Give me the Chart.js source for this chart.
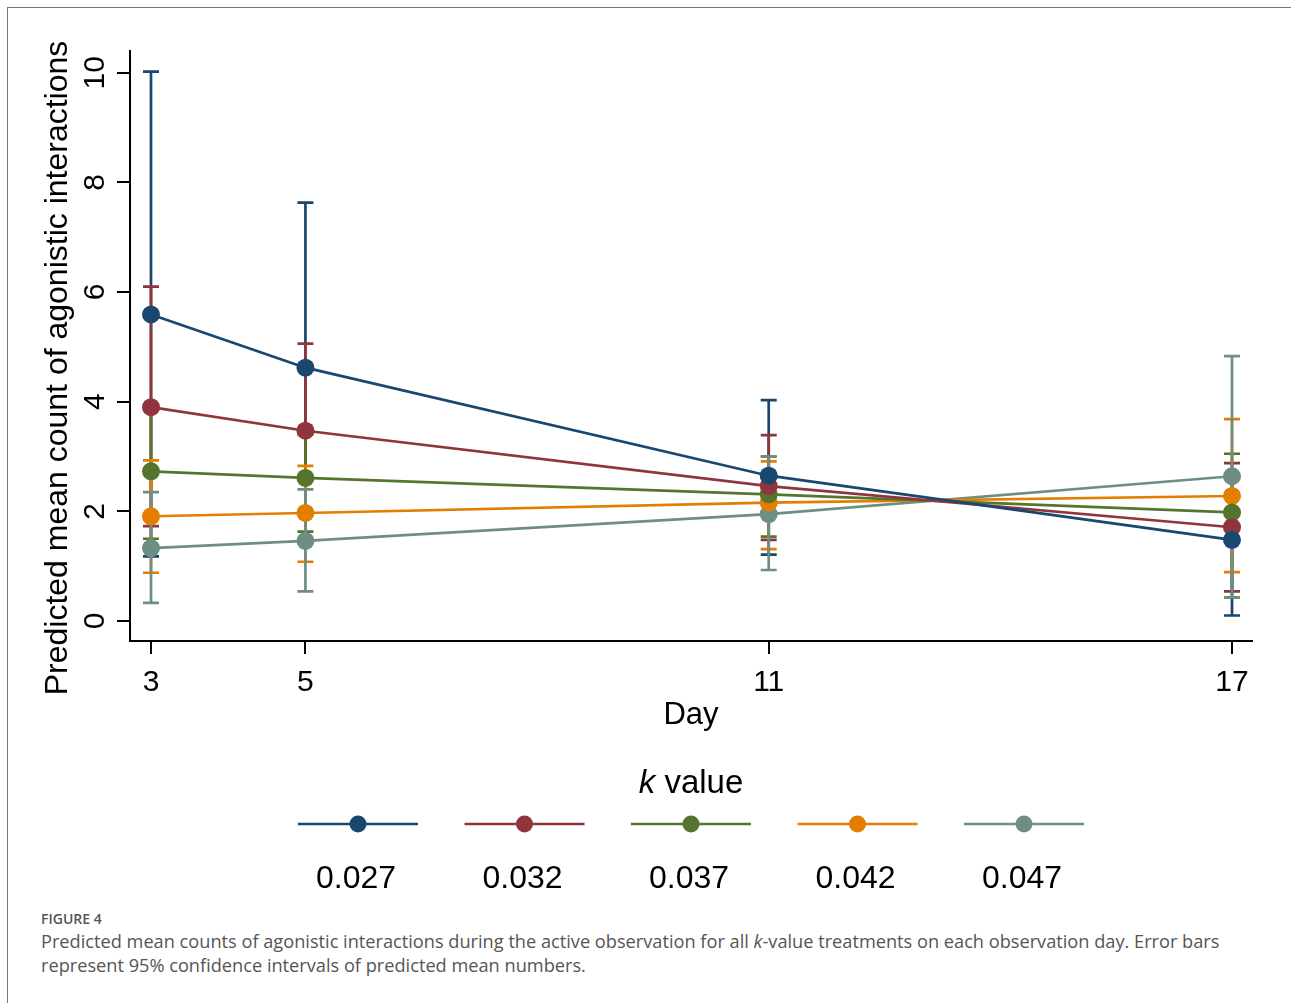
<!DOCTYPE html>
<html>
<head>
<meta charset="utf-8">
<script src="https://cdn.jsdelivr.net/npm/chart.js@4"></script>
<style>
  html, body { margin: 0; padding: 0; background: #fff; }
  body { width: 1291px; height: 1003px; position: relative; overflow: hidden; }
  #frame { position: absolute; left: 7px; top: 7px; width: 1400px; height: 1100px; border: 1px solid #777; box-sizing: border-box; }
  #wrap { position: absolute; left: 0; top: 0; width: 1291px; height: 900px; }
  #caption { position: absolute; left: 41px; top: 909px; width: 1240px; font-family: "Open Sans", "Noto Sans", sans-serif; color: #555; }
  #caption .fig { font-size: 14px; font-weight: 600; line-height: 20px; }
  #caption .txt { font-size: 18.2px; line-height: 24px; margin-top: 0px; white-space: nowrap; }
</style>
</head>
<body>
<div id="frame"></div>
<div id="wrap"><canvas id="chart" width="1291" height="900"></canvas></div>
<div id="caption">
  <div class="fig">FIGURE 4</div>
  <div class="txt">Predicted mean counts of agonistic interactions during the active observation for all <i>k</i>-value treatments on each observation day. Error bars<br>represent 95% confidence intervals of predicted mean numbers.</div>
</div>
<script>
// observation days and k values
const days = [3, 5, 11, 17];
const kLabels = ['0.027', '0.032', '0.037', '0.042', '0.047'];
const yTicks = [0, 2, 4, 6, 8, 10];

// predicted means and 95% CI per k value
const mean027 = [5.59, 4.62, 2.65, 1.48];
const lower027 = [1.18, 1.45, 1.21, 0.10];
const upper027 = [10.02, 7.63, 4.03, 2.65];

const mean032 = [3.90, 3.47, 2.46, 1.71];
const lower032 = [1.73, 1.95, 1.48, 0.54];
const upper032 = [6.10, 5.06, 3.39, 2.88];

const mean037 = [2.73, 2.61, 2.31, 1.98];
const lower037 = [1.50, 1.63, 1.54, 0.43];
const upper037 = [3.85, 3.40, 3.00, 3.05];

const mean042 = [1.91, 1.97, 2.16, 2.28];
const lower042 = [0.88, 1.08, 1.31, 0.89];
const upper042 = [2.93, 2.83, 2.91, 3.68];

const mean047 = [1.33, 1.46, 1.95, 2.64];
const lower047 = [0.33, 0.54, 0.93, 0.43];
const upper047 = [2.35, 2.40, 3.00, 4.83];

const means = [mean027, mean032, mean037, mean042, mean047];
const lowers = [lower027, lower032, lower037, lower042, lower047];
const uppers = [upper027, upper032, upper037, upper042, upper047];
const colors = ['#1a476f', '#90353b', '#55752f', '#e37e00', '#6e8e84'];

const FONT = '"Liberation Sans", Arial, sans-serif';

// error bars, drawn under the lines; last series on top
const errorBars = {
  id: 'errorBars',
  beforeDatasetsDraw(chart){
    const {ctx, scales:{x, y}} = chart;
    ctx.save();
    ctx.lineWidth = 2.7;
    for(let i = 0; i < means.length; i++){
      ctx.strokeStyle = colors[i];
      days.forEach((d, j) => {
        const px = x.getPixelForValue(d);
        const lo = y.getPixelForValue(lowers[i][j]);
        const hi = y.getPixelForValue(uppers[i][j]);
        ctx.beginPath();
        ctx.moveTo(px, lo); ctx.lineTo(px, hi);
        ctx.moveTo(px - 8, lo); ctx.lineTo(px + 8, lo);
        ctx.moveTo(px - 8, hi); ctx.lineTo(px + 8, hi);
        ctx.stroke();
      });
    }
    ctx.restore();
  }
};

// rotated y labels, axis titles and the legend underneath
const extras = {
  id: 'extras',
  afterDraw(chart){
    const {ctx, chartArea, scales:{y}} = chart;
    ctx.save();
    ctx.fillStyle = '#000';
    ctx.textAlign = 'center';
    ctx.textBaseline = 'middle';

    ctx.font = '30px ' + FONT;
    for(const v of yTicks){
      ctx.save();
      ctx.translate(95, y.getPixelForValue(v));
      ctx.rotate(-Math.PI / 2);
      ctx.fillText(String(v), 0, 1);
      ctx.restore();
    }

    ctx.font = '32px ' + FONT;
    ctx.save();
    ctx.translate(58, 368);
    ctx.rotate(-Math.PI / 2);
    ctx.fillText('Predicted mean count of agonistic interactions', 0, 0);
    ctx.restore();

    const cx = (chartArea.left + chartArea.right) / 2;
    ctx.font = '31px ' + FONT;
    ctx.fillText('Day', cx, 715);

    // legend title with italic k
    const italic = 'italic 33px ' + FONT, normal = '33px ' + FONT;
    ctx.font = italic; const wk = ctx.measureText('k').width;
    ctx.font = normal; const wr = ctx.measureText(' value').width;
    let sx = cx - (wk + wr) / 2;
    ctx.textAlign = 'left';
    ctx.font = italic; ctx.fillText('k', sx, 784);
    ctx.font = normal; ctx.fillText(' value', sx + wk, 784);

    ctx.textAlign = 'center';
    ctx.font = '32px ' + FONT;
    kLabels.forEach((lab, i) => {
      const lx = 358 + i * 166.5;
      ctx.strokeStyle = colors[i];
      ctx.lineWidth = 2.7;
      ctx.beginPath(); ctx.moveTo(lx - 60, 824); ctx.lineTo(lx + 60, 824); ctx.stroke();
      ctx.fillStyle = colors[i];
      ctx.beginPath(); ctx.arc(lx, 824, 8.5, 0, Math.PI * 2); ctx.fill();
      ctx.fillStyle = '#000';
      ctx.fillText(lab, lx - 2, 879);
    });
    ctx.restore();
  }
};

new Chart(document.getElementById('chart'), {
  type: 'line',
  data: {
    datasets: means.map((m, i) => ({
      label: kLabels[i],
      data: days.map((d, j) => ({x: d, y: m[j]})),
      borderColor: colors[i],
      backgroundColor: colors[i],
      borderWidth: 2.7,
      pointRadius: 9,
      pointBorderWidth: 0,
      pointBackgroundColor: colors[i],
      tension: 0
    }))
  },
  options: {
    responsive: false,
    animation: false,
    events: [],
    layout: {padding: {left: 0, top: 51, right: 39, bottom: 0}},
    plugins: {legend: {display: false}, tooltip: {enabled: false}},
    scales: {
      x: {
        type: 'linear',
        min: 2.728, max: 17.259,
        afterBuildTicks: s => { s.ticks = days.map(v => ({value: v})); },
        afterFit: s => { s.height = 259; },
        border: {display: true, color: '#000', width: 2},
        grid: {drawOnChartArea: false, drawTicks: true, tickLength: 13, color: '#000', lineWidth: 2},
        ticks: {color: '#000', padding: 11, maxRotation: 0, font: {size: 30, family: FONT}}
      },
      y: {
        type: 'linear',
        min: -0.365, max: 10.396,
        afterBuildTicks: s => { s.ticks = yTicks.map(v => ({value: v})); },
        afterFit: s => { s.width = 130; },
        border: {display: true, color: '#000', width: 2},
        grid: {drawOnChartArea: false, drawTicks: true, tickLength: 13, color: '#000', lineWidth: 2},
        ticks: {display: false}
      }
    }
  },
  plugins: [errorBars, extras]
});
</script>
</body>
</html>
